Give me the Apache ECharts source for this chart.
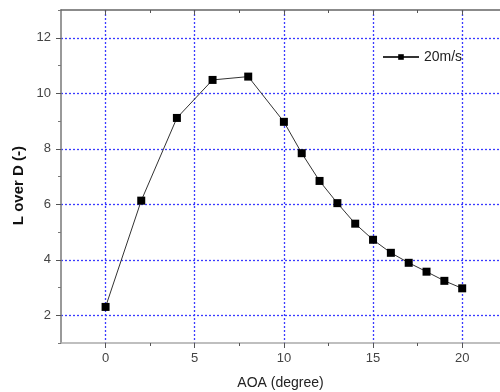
<!DOCTYPE html>
<html>
<head>
<meta charset="utf-8">
<script src="https://cdn.jsdelivr.net/npm/echarts@6/dist/echarts.min.js"></script>
<style>
  html, body { margin: 0; padding: 0; background: #fff; }
  #chart { width: 500px; height: 392px; }
</style>
</head>
<body>
<div id="chart"></div>
<script>
// Lift-to-drag ratio against angle of attack at 20 m/s
var aoa = [0, 2, 4, 6, 8, 10, 11, 12, 13, 14, 15, 16, 17, 18, 19, 20];
var lOverD = [2.30, 6.13, 9.11, 10.48, 10.60, 8.97, 7.84, 6.84, 6.04, 5.30, 4.72, 4.25, 3.89, 3.57, 3.24, 2.97];
var seriesName = '20m/s';

var xMajor = [0, 5, 10, 15, 20];
var xMinor = [2.5, 7.5, 12.5, 17.5];
var yMajor = [2, 4, 6, 8, 10, 12];
var yMinor = [1, 3, 5, 7, 9, 11, 13];

var X_MIN = -2.5, X_MAX = 22.12, Y_MIN = 1, Y_MAX = 13;
var labelFont = { color: '#444', fontSize: 13, fontFamily: 'Liberation Sans' };
var gridLine = { show: true, lineStyle: { color: '#3a3aff', width: 1.3, type: [2, 2] } };

function tickOnlyX(pos, vals, len, inside, color) {
  return {
    type: 'value', position: pos, min: X_MIN, max: X_MAX,
    axisLine: { show: false, onZero: false },
    axisTick: { show: true, inside: inside, length: len, customValues: vals, lineStyle: { color: color, width: 1 } },
    axisLabel: { show: false }, splitLine: { show: false }
  };
}

var chart = echarts.init(document.getElementById('chart'), null, { renderer: 'canvas' });
chart.setOption({
  animation: false,
  backgroundColor: '#fff',
  grid: { left: 61, top: 10, bottom: 49, right: 0, containLabel: false, outerBoundsMode: 'none' },
  legend: {
    data: [seriesName],
    left: 377, top: 45,
    itemWidth: 36, itemHeight: 7, itemGap: 4,
    textStyle: { color: '#222', fontSize: 14, fontFamily: 'Liberation Sans' }
  },
  xAxis: [
    {
      type: 'value', position: 'bottom', min: X_MIN, max: X_MAX,
      name: 'AOA (degree)', nameLocation: 'middle', nameGap: 33,
      nameTextStyle: { color: '#222', fontSize: 14, fontFamily: 'Liberation Sans' },
      axisLine: { show: true, onZero: false, lineStyle: { color: '#aaa', width: 1.5 } },
      axisTick: { show: true, inside: false, length: 5, customValues: xMajor, lineStyle: { color: '#555', width: 1 } },
      axisLabel: Object.assign({ margin: 9, customValues: xMajor }, labelFont),
      splitLine: gridLine
    },
    tickOnlyX('bottom', xMinor, 3, false, '#555'),
    Object.assign(tickOnlyX('top', xMajor, 5, true, '#555'), {
      axisLine: { show: true, onZero: false, lineStyle: { color: '#666', width: 1.5 } }
    }),
    tickOnlyX('top', xMinor, 3, true, '#555')
  ],
  yAxis: [
    {
      type: 'value', position: 'left', min: Y_MIN, max: Y_MAX,
      axisLine: { show: true, onZero: false, lineStyle: { color: '#777', width: 1.5 } },
      axisTick: { show: true, inside: false, length: 5, customValues: yMajor, lineStyle: { color: '#555', width: 1 } },
      axisLabel: Object.assign({ margin: 10, customValues: yMajor }, labelFont),
      splitLine: gridLine
    },
    {
      type: 'value', position: 'left', min: Y_MIN, max: Y_MAX,
      axisLine: { show: false, onZero: false },
      axisTick: { show: true, inside: false, length: 3, customValues: yMinor, lineStyle: { color: '#777', width: 1 } },
      axisLabel: { show: false }, splitLine: { show: false }
    }
  ],
  graphic: [{
    type: 'text', left: 11, top: 146, rotation: Math.PI / 2,
    style: { text: 'L over D (-)', fill: '#111', font: 'bold 15px "Liberation Sans"' }
  }],
  series: [{
    name: seriesName, type: 'line',
    xAxisIndex: 0, yAxisIndex: 0,
    data: aoa.map(function (a, i) { return [a, lOverD[i]]; }),
    symbol: 'rect', symbolSize: 8, showAllSymbol: true,
    itemStyle: { color: '#000' },
    lineStyle: { color: '#333', width: 1 }
  }]
});
</script>
</body>
</html>
